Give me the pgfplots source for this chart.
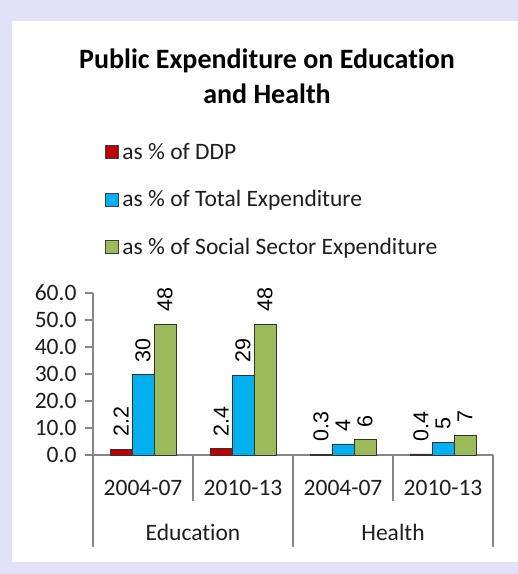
\documentclass[border=0pt]{standalone}
\usepackage{fontspec}
\setmainfont{Carlito}[Ligatures=NoCommon]
\newfontfamily\arialfont{Liberation Sans}
\usepackage{pgfplots}
\pgfplotsset{compat=1.18}
\definecolor{bglav}{RGB}{225,225,248}
\definecolor{cred}{RGB}{192,0,0}
\definecolor{cblue}{RGB}{0,176,240}
\definecolor{cgreen}{RGB}{155,187,89}
\definecolor{axgray}{RGB}{134,134,134}
\definecolor{txt}{RGB}{30,30,30}
\begin{document}
\begin{tikzpicture}
\fill[bglav] (0,0) rectangle (518bp,574bp);
\fill[white] (12bp,12bp) rectangle (518bp,553bp);
\node[font=\bfseries\fontsize{28bp}{35bp}\selectfont, align=center, text=black] at (267bp,498bp) {Public Expenditure on Education\\and Health};
\begin{axis}[
  at={(93bp,119bp)}, anchor=south west,
  width=400bp, height=162bp, scale only axis,
  xmin=-0.5, xmax=3.5, ymin=0, ymax=60,
  axis x line=bottom, axis y line=left,
  axis line style={axgray, line width=1.3bp, -},
  xtick=\empty,
  ytick={0,10,...,60},
  ytick align=outside, major tick length=8bp,
  tick style={axgray, line width=1.3bp},
  yticklabel style={font=\fontsize{23.5bp}{28bp}\selectfont, text=txt, xshift=-5bp, /pgf/number format/.cd, fixed, fixed zerofill, precision=1, assume math mode=true},
  ybar=0pt, bar width=22bp,
  clip=false,
  nodes near coords, point meta=explicit symbolic,
  every node near coord/.append style={font=\arialfont\fontsize{21.5bp}{25bp}\selectfont, text=black, rotate=90, anchor=west, inner xsep=12bp, inner ysep=0pt},
  legend image code/.code={\draw[#1, draw=black!75, line width=0.8bp] (0bp,-6.5bp) rectangle (13bp,6.5bp);},
  legend style={draw=none, fill=none, at={(axis description cs:0.03,1.94)}, anchor=north west, font=\fontsize{23.5bp}{28bp}\selectfont, text=txt, row sep=26bp, inner sep=0pt, /tikz/every odd column/.append style={column sep=1.5bp}},
  legend cell align=left,
]
\addplot[fill=cred, draw=black!80, line width=0.8bp] coordinates {(0,2.2)[2.2] (1,2.4)[2.4] (2,0.3)[0.3] (3,0.4)[0.4]};
\addplot[fill=cblue, draw=black!80, line width=0.8bp] coordinates {(0,29.8)[30] (1,29.5)[29] (2,4.1)[4] (3,4.8)[5]};
\addplot[fill=cgreen, draw=black!80, line width=0.8bp] coordinates {(0,48.4)[48] (1,48.4)[48] (2,5.7)[6] (3,7.4)[7]};
\legend{as \% of DDP, as \% of Total Expenditure, as \% of Social Sector Expenditure}
\draw[axgray, line width=1.3bp] (axis cs:-0.5,0) -- ([yshift=-92bp]axis cs:-0.5,0);
\draw[axgray, line width=1.3bp] (axis cs:1.5,0) -- ([yshift=-92bp]axis cs:1.5,0);
\draw[axgray, line width=1.3bp] (axis cs:3.5,0) -- ([yshift=-92bp]axis cs:3.5,0);
\draw[axgray, line width=1.3bp] (axis cs:0.5,0) -- ([yshift=-46bp]axis cs:0.5,0);
\draw[axgray, line width=1.3bp] (axis cs:2.5,0) -- ([yshift=-46bp]axis cs:2.5,0);
\node[anchor=base, font=\fontsize{23.5bp}{28bp}\selectfont, text=txt] at ([yshift=-40bp]axis cs:0,0) {2004-07};
\node[anchor=base, font=\fontsize{23.5bp}{28bp}\selectfont, text=txt] at ([yshift=-40bp]axis cs:1,0) {2010-13};
\node[anchor=base, font=\fontsize{23.5bp}{28bp}\selectfont, text=txt] at ([yshift=-40bp]axis cs:2,0) {2004-07};
\node[anchor=base, font=\fontsize{23.5bp}{28bp}\selectfont, text=txt] at ([yshift=-40bp]axis cs:3,0) {2010-13};
\node[anchor=base, font=\fontsize{23.5bp}{28bp}\selectfont, text=txt] at ([yshift=-85bp]axis cs:0.5,0) {Education};
\node[anchor=base, font=\fontsize{23.5bp}{28bp}\selectfont, text=txt] at ([yshift=-85bp]axis cs:2.5,0) {Health};
\end{axis}
\pgfresetboundingbox
\useasboundingbox (0,0) rectangle (518bp,574bp);
\end{tikzpicture}
\end{document}
